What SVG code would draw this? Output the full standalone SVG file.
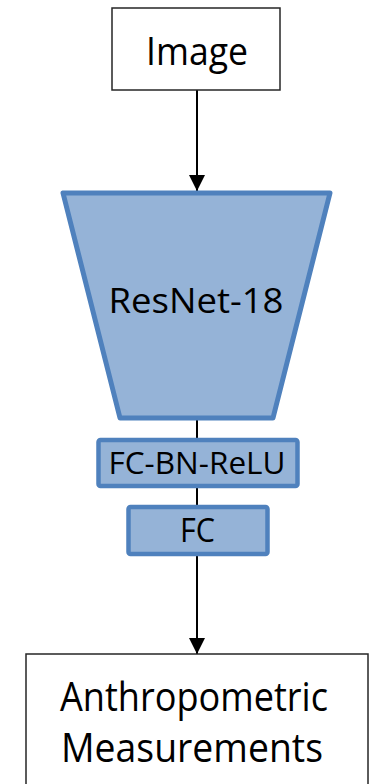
<svg xmlns="http://www.w3.org/2000/svg" width="375" height="784" viewBox="0 0 375 784">
<style>
  text { font-family: "Open Sans", "Noto Sans", "Liberation Sans", sans-serif; fill: #000; text-anchor: middle; }
  .plain { fill: #fff; stroke: #262626; stroke-width: 1.5; }
  .blue { fill: #95B3D7; stroke: #4F81BD; stroke-width: 5; stroke-linejoin: round; }
  .blue2 { fill: #95B3D7; stroke: #4F81BD; stroke-width: 4.5; }
  .conn { stroke: #000; stroke-width: 2; fill: none; }
</style>
<defs>
  <marker id="arrow" viewBox="0 0 16 16" refX="16" refY="8" markerWidth="16" markerHeight="16" markerUnits="userSpaceOnUse" orient="auto">
    <path d="M0,0 L16,8 L0,16 Z" fill="#000"/>
  </marker>
</defs>
<g id="connectors">
  <line class="conn" x1="197" y1="90" x2="197" y2="191" marker-end="url(#arrow)"/>
  <line class="conn" x1="197" y1="418" x2="197" y2="439"/>
  <line class="conn" x1="197" y1="487" x2="197" y2="506"/>
  <line class="conn" x1="197" y1="556" x2="197" y2="654" marker-end="url(#arrow)"/>
</g>
<g id="image">
  <rect class="plain" x="112" y="8" width="168" height="82"/>
  <text x="197" y="65" font-size="39" textLength="102" lengthAdjust="spacingAndGlyphs">Image</text>
</g>
<g id="resnet">
  <polygon class="blue" points="63,193 330,193 273,418 120,418"/>
  <text x="196" y="313" font-size="35" textLength="175" lengthAdjust="spacingAndGlyphs">ResNet-18</text>
</g>
<g id="fcbnrelu">
  <rect class="blue2" x="98.5" y="440" width="199" height="46" rx="2"/>
  <text x="197" y="474" font-size="31" textLength="177" lengthAdjust="spacingAndGlyphs">FC-BN-ReLU</text>
</g>
<g id="fc">
  <rect class="blue2" x="128.5" y="507" width="139" height="47" rx="2"/>
  <text x="197.5" y="542" font-size="32" textLength="35" lengthAdjust="spacingAndGlyphs">FC</text>
</g>
<g id="output">
  <rect class="plain" x="26" y="654" width="342" height="140"/>
  <text x="194" y="711" font-size="41" textLength="268" lengthAdjust="spacingAndGlyphs">Anthropometric</text>
  <text x="192" y="762" font-size="41" textLength="262" lengthAdjust="spacingAndGlyphs">Measurements</text>
</g>
</svg>
